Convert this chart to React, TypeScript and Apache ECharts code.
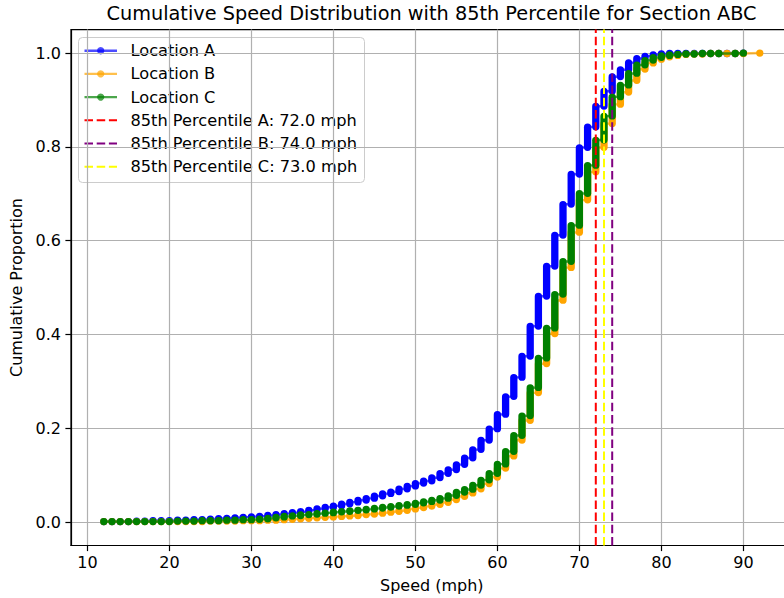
import React, { useEffect, useRef } from "react";
import * as echarts from "echarts";

// Cumulative proportion of observed speeds (mph) at each recorded speed value
const speedsA = [12, 13, 14, 15, 16, 17, 18, 19, 20, 21, 22, 23, 24, 25, 26, 27, 28, 29, 30, 31, 32, 33, 34, 35, 36, 37, 38, 39, 40, 41, 42, 43, 44, 45, 46, 47, 48, 49, 50, 51, 52, 53, 54, 55, 56, 57, 58, 59, 60, 61, 62, 63, 64, 65, 66, 67, 68, 69, 70, 71, 72, 73, 74, 75, 76, 77, 78, 79, 80, 81, 82, 83, 84, 85, 86, 87, 88, 89, 90];
const cumulativeA = [0.001, 0.001, 0.001, 0.001, 0.002, 0.002, 0.003, 0.003, 0.003, 0.004, 0.004, 0.005, 0.005, 0.006, 0.007, 0.008, 0.009, 0.010, 0.011, 0.012, 0.014, 0.016, 0.018, 0.020, 0.022, 0.025, 0.028, 0.031, 0.034, 0.038, 0.042, 0.046, 0.050, 0.055, 0.060, 0.064, 0.070, 0.076, 0.082, 0.087, 0.094, 0.103, 0.111, 0.122, 0.136, 0.154, 0.174, 0.198, 0.229, 0.267, 0.308, 0.353, 0.417, 0.481, 0.545, 0.611, 0.677, 0.741, 0.798, 0.842, 0.886, 0.918, 0.949, 0.964, 0.979, 0.988, 0.993, 0.996, 0.998, 0.999, 0.999, 0.999, 0.999, 0.999, 0.999, 0.999, 0.999, 0.999, 1.0];

const speedsB = [12, 13, 14, 15, 16, 17, 18, 19, 20, 21, 22, 23, 24, 25, 26, 27, 28, 29, 30, 31, 32, 33, 34, 35, 36, 37, 38, 39, 40, 41, 42, 43, 44, 45, 46, 47, 48, 49, 50, 51, 52, 53, 54, 55, 56, 57, 58, 59, 60, 61, 62, 63, 64, 65, 66, 67, 68, 69, 70, 71, 72, 73, 74, 75, 76, 77, 78, 79, 80, 81, 82, 83, 84, 85, 86, 87, 88, 89, 90, 92];
const cumulativeB = [0.001, 0.001, 0.001, 0.001, 0.001, 0.001, 0.001, 0.001, 0.001, 0.001, 0.001, 0.001, 0.001, 0.002, 0.002, 0.002, 0.002, 0.003, 0.003, 0.003, 0.004, 0.004, 0.005, 0.006, 0.007, 0.008, 0.009, 0.010, 0.011, 0.012, 0.013, 0.015, 0.016, 0.018, 0.020, 0.022, 0.024, 0.027, 0.030, 0.033, 0.037, 0.041, 0.047, 0.054, 0.061, 0.070, 0.081, 0.095, 0.114, 0.140, 0.174, 0.216, 0.275, 0.337, 0.401, 0.472, 0.542, 0.617, 0.686, 0.746, 0.798, 0.849, 0.890, 0.916, 0.941, 0.965, 0.978, 0.986, 0.991, 0.994, 0.996, 0.997, 0.998, 0.998, 0.999, 0.999, 0.999, 0.999, 0.999, 1.0];

const speedsC = [12, 13, 14, 15, 16, 17, 18, 19, 20, 21, 22, 23, 24, 25, 26, 27, 28, 29, 30, 31, 32, 33, 34, 35, 36, 37, 38, 39, 40, 41, 42, 43, 44, 45, 46, 47, 48, 49, 50, 51, 52, 53, 54, 55, 56, 57, 58, 59, 60, 61, 62, 63, 64, 65, 66, 67, 68, 69, 70, 71, 72, 73, 74, 75, 76, 77, 78, 79, 80, 81, 82, 83, 84, 85, 86, 87, 89, 90];
const cumulativeC = [0.001, 0.001, 0.001, 0.001, 0.001, 0.001, 0.001, 0.001, 0.001, 0.002, 0.002, 0.002, 0.003, 0.003, 0.003, 0.004, 0.004, 0.005, 0.005, 0.006, 0.008, 0.010, 0.012, 0.013, 0.015, 0.016, 0.018, 0.019, 0.021, 0.022, 0.024, 0.025, 0.027, 0.029, 0.031, 0.033, 0.035, 0.037, 0.040, 0.043, 0.046, 0.050, 0.056, 0.063, 0.069, 0.078, 0.089, 0.103, 0.123, 0.150, 0.184, 0.226, 0.286, 0.349, 0.413, 0.485, 0.555, 0.632, 0.700, 0.760, 0.814, 0.865, 0.906, 0.931, 0.956, 0.974, 0.984, 0.990, 0.994, 0.996, 0.997, 0.998, 0.998, 0.999, 0.999, 0.999, 0.999, 1.0];

const locationNames = ["Location A", "Location B", "Location C"];
const locationColors = ["#0000ff", "#ffa500", "#008000"];

// 85th percentile speed per location
const percentileLetters = ["A", "B", "C"];
const percentile85 = [72.0, 74.0, 73.0];
const percentileColors = ["#ff0000", "#800080", "#ffff00"];

const xTicks = [10, 20, 30, 40, 50, 60, 70, 80, 90];
const yTicks = [0, 0.2, 0.4, 0.6, 0.8, 1.0];

const FONT = "'DejaVu Sans', Verdana, sans-serif";
const R = 3.65; // marker radius in px
const STEP = 0.001; // one observation's share of the total

const locations = [
  { speeds: speedsA, cum: cumulativeA },
  { speeds: speedsB, cum: cumulativeB },
  { speeds: speedsC, cum: cumulativeC },
];

// Each speed value becomes a vertical run from the previous cumulative level to its own
function runs(speeds: number[], cum: number[]) {
  return speeds.map((s, i) => {
    const hi = cum[i];
    const lo = i === 0 ? hi : Math.min(hi, cum[i - 1] + STEP);
    return [s, lo, hi];
  });
}

function buildOption() {
  const series: any[] = [];
  locations.forEach((loc, idx) => {
    const color = locationColors[idx];
    const r = runs(loc.speeds, loc.cum);
    const path: number[][] = [];
    r.forEach(([s, lo, hi]) => {
      path.push([s, lo]);
      path.push([s, hi]);
    });
    series.push({
      type: "line",
      name: locationNames[idx],
      data: path,
      symbol: "none",
      showSymbol: false,
      silent: true,
      z: 2 + idx * 2,
      lineStyle: { color, width: 2.4, opacity: 0.7 },
    });
    series.push({
      type: "custom",
      name: locationNames[idx] + " points",
      data: r,
      silent: true,
      z: 3 + idx * 2,
      encode: { x: 0, y: [1, 2] },
      renderItem: (_params: any, api: any) => {
        const s = api.value(0);
        const lo = api.value(1);
        const hi = api.value(2);
        const top = api.coord([s, hi]);
        const bot = api.coord([s, lo]);
        return {
          type: "rect",
          shape: {
            x: top[0] - R,
            y: top[1] - R,
            width: 2 * R,
            height: bot[1] - top[1] + 2 * R,
            r: R,
          },
          style: { fill: color },
        };
      },
    });
  });

  percentile85.forEach((p, i) => {
    series.push({
      type: "line",
      name: `85th Percentile ${percentileLetters[i]}`,
      data: [
        [p, -0.05],
        [p, 1.05],
      ],
      symbol: "none",
      silent: true,
      z: 20,
      lineStyle: { color: percentileColors[i], width: 2, type: [8.5, 3.7] },
    });
  });

  // Legend box drawn in the corner of the plot area
  const legendLabels = [
    ...locationNames,
    ...percentile85.map((p, i) => `85th Percentile ${percentileLetters[i]}: ${p.toFixed(1)} mph`),
  ];
  const rowY0 = 50.7;
  const rowGap = 23.2;
  const legendChildren: any[] = [
    {
      type: "rect",
      shape: { x: 78.5, y: 37.5, width: 286, height: 145, r: 4 },
      style: { fill: "rgba(255,255,255,0.8)", stroke: "#cccccc", lineWidth: 1 },
    },
  ];
  legendLabels.forEach((label, i) => {
    const y = rowY0 + i * rowGap;
    if (i < 3) {
      legendChildren.push({
        type: "line",
        shape: { x1: 84.5, y1: y, x2: 117, y2: y },
        style: { stroke: locationColors[i], lineWidth: 2.4, opacity: 0.7 },
      });
      legendChildren.push({
        type: "circle",
        shape: { cx: 100.7, cy: y, r: R },
        style: { fill: locationColors[i], opacity: 0.7 },
      });
    } else {
      legendChildren.push({
        type: "line",
        shape: { x1: 84.5, y1: y, x2: 117, y2: y },
        style: { stroke: percentileColors[i - 3], lineWidth: 2, lineDash: [8.5, 3.7] },
      });
    }
    legendChildren.push({
      type: "text",
      x: 130.5,
      y,
      style: {
        text: label,
        font: `16.2px ${FONT}`,
        fill: "#000",
        textAlign: "left",
        textVerticalAlign: "middle",
      },
    });
  });

  return {
    animation: false,
    backgroundColor: "#ffffff",
    textStyle: { fontFamily: FONT },
    grid: {
      left: 71,
      top: 29.6,
      width: 721.6,
      height: 515.9,
      show: true,
      borderColor: "#000",
      borderWidth: 1.2,
      backgroundColor: "transparent",
      containLabel: false,
      outerBoundsMode: "none",
    },
    xAxis: {
      type: "value",
      min: 8,
      max: 96,
      splitNumber: 9,
      name: "Speed (mph)",
      nameLocation: "middle",
      nameGap: 32,
      nameTextStyle: { fontSize: 16, color: "#000", fontFamily: FONT },
      axisLine: { show: true, onZero: false, lineStyle: { color: "#000", width: 1.2 } },
      axisTick: { show: true, inside: false, length: 5.6, customValues: xTicks, lineStyle: { color: "#000", width: 1.2 } },
      axisLabel: {
        customValues: xTicks,
        margin: 9,
        fontSize: 16,
        color: "#000",
        fontFamily: FONT,
      },
      splitLine: { show: true, lineStyle: { color: "#b0b0b0", width: 1.2 } },
    },
    yAxis: {
      type: "value",
      min: -0.05,
      max: 1.05,
      splitNumber: 5,
      name: "Cumulative Proportion",
      nameLocation: "middle",
      nameRotate: 90,
      nameGap: 46,
      nameTextStyle: { fontSize: 16, color: "#000", fontFamily: FONT },
      axisLine: { show: true, onZero: false, lineStyle: { color: "#000", width: 1.2 } },
      axisTick: { show: true, inside: false, length: 5.6, customValues: yTicks, lineStyle: { color: "#000", width: 1.2 } },
      axisLabel: {
        customValues: yTicks,
        margin: 10,
        fontSize: 16,
        color: "#000",
        fontFamily: FONT,
        formatter: (v: number) => v.toFixed(1),
      },
      splitLine: { show: true, lineStyle: { color: "#b0b0b0", width: 1.2 } },
    },
    graphic: [
      {
        type: "text",
        x: 431.5,
        y: 13,
        z: 100,
        style: {
          text: "Cumulative Speed Distribution with 85th Percentile for Section ABC",
          font: `19.3px ${FONT}`,
          fill: "#000",
          textAlign: "center",
          textVerticalAlign: "middle",
        },
      },
      { type: "group", z: 100, children: legendChildren },
    ],
    series,
  };
}

export default function App() {
  const ref = useRef<HTMLDivElement>(null);
  useEffect(() => {
    if (!ref.current) return;
    const chart = echarts.init(ref.current, undefined, { renderer: "svg" });
    chart.setOption(buildOption() as any);
    return () => chart.dispose();
  }, []);
  return (
    <div
      ref={ref}
      style={{ position: "fixed", left: 0, top: 0, width: 784, height: 598, background: "#fff" }}
    />
  );
}
